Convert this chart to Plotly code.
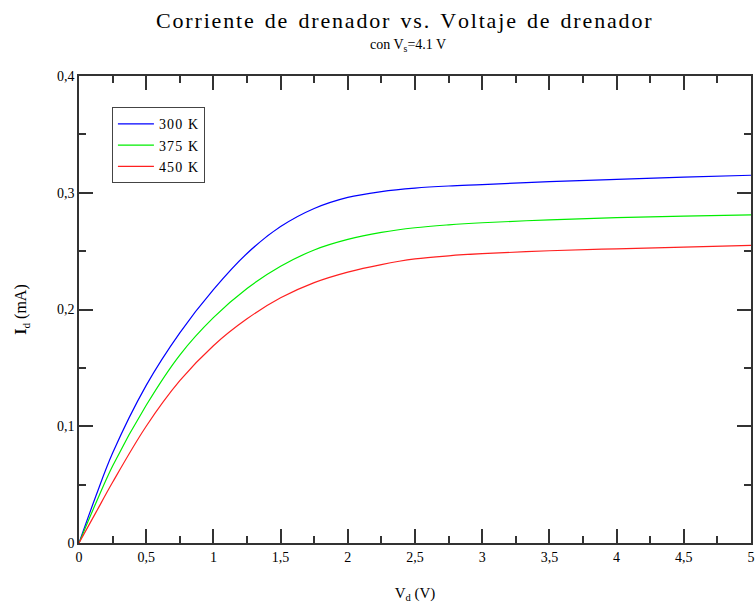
import plotly.graph_objects as go

vd = [0, 0.125, 0.25, 0.5, 0.75, 1.0, 1.25, 1.5, 1.75, 2.0, 2.25, 2.5, 2.75, 3.0, 3.5, 4.0, 4.5, 5.0]
id_300 = [0, 0.040, 0.077, 0.135, 0.180, 0.217, 0.248, 0.271, 0.2865, 0.296, 0.301,
          0.304, 0.3058, 0.307, 0.3095, 0.3115, 0.3133, 0.315]
id_375 = [0, 0.034, 0.066, 0.118, 0.161, 0.193, 0.218, 0.237, 0.251, 0.260, 0.266,
          0.270, 0.2725, 0.2743, 0.2768, 0.2787, 0.280, 0.281]
id_450 = [0, 0.026, 0.052, 0.100, 0.139, 0.169, 0.192, 0.210, 0.223, 0.232, 0.2385,
          0.2433, 0.246, 0.2478, 0.2503, 0.252, 0.2535, 0.255]
series_names = ["300 K", "375 K", "450 K"]
series_colors = ["#0000ff", "#00ee00", "#ff2020"]

FONT = "Liberation Serif, Times New Roman, serif"


def spaced(s, sep="\u200a"):
    return sep.join(s)


fig = go.Figure()
for name, ys, col in zip(series_names, [id_300, id_375, id_450], series_colors):
    fig.add_trace(go.Scatter(x=vd, y=ys, mode="lines", name=spaced(name),
                             line=dict(color=col, width=1.2, shape="spline", smoothing=1.0)))

axis_common = dict(
    showline=True, linecolor="#333333", linewidth=1.5, mirror="ticks",
    ticks="inside", ticklen=14, tickwidth=1.5, tickcolor="#333333",
    showgrid=False, zeroline=False, automargin=False,
    tickfont=dict(family=FONT, size=14, color="black"),
)

fig.update_layout(
    width=756, height=606,
    margin=dict(l=79, r=5, t=76, b=63),
    paper_bgcolor="white", plot_bgcolor="white",
    separators=",.",
    font=dict(family=FONT, color="black"),
    showlegend=True,
    legend=dict(x=0.049, y=0.933, xanchor="left", yanchor="top",
                bordercolor="#444444", borderwidth=1, bgcolor="white",
                font=dict(family=FONT, size=14, color="black"),
                tracegroupgap=0, itemwidth=36),
    xaxis=dict(range=[0, 5], dtick=0.5, tick0=0,
               minor=dict(dtick=0.25, ticks="inside", ticklen=7, tickcolor="#333333", tickwidth=1.5),
               title=dict(text="V<sub>d</sub> (V)", font=dict(family=FONT, size=15), standoff=24),
               **axis_common),
    yaxis=dict(range=[0, 0.4], dtick=0.1, tick0=0,
               minor=dict(dtick=0.05, ticks="inside", ticklen=7, tickcolor="#333333", tickwidth=1.5),
               title=dict(text="<b>I</b><sub>d</sub> (mA)", font=dict(family=FONT, size=16), standoff=26),
               **axis_common),
)

title_text = "\u2002".join(spaced(w) for w in "Corriente de drenador vs. Voltaje de drenador".split(" "))
fig.add_annotation(text=title_text,
                   xref="paper", yref="paper", x=0.483, y=1.0, yshift=56,
                   xanchor="center", yanchor="middle", showarrow=False,
                   font=dict(family=FONT, size=22, color="black"))
fig.add_annotation(text="con V<sub>s</sub>=4.1 V",
                   xref="paper", yref="paper", x=0.49, y=1.0, yshift=31,
                   xanchor="center", yanchor="middle", showarrow=False,
                   font=dict(family=FONT, size=14, color="black"))

fig.write_html("out.html")
